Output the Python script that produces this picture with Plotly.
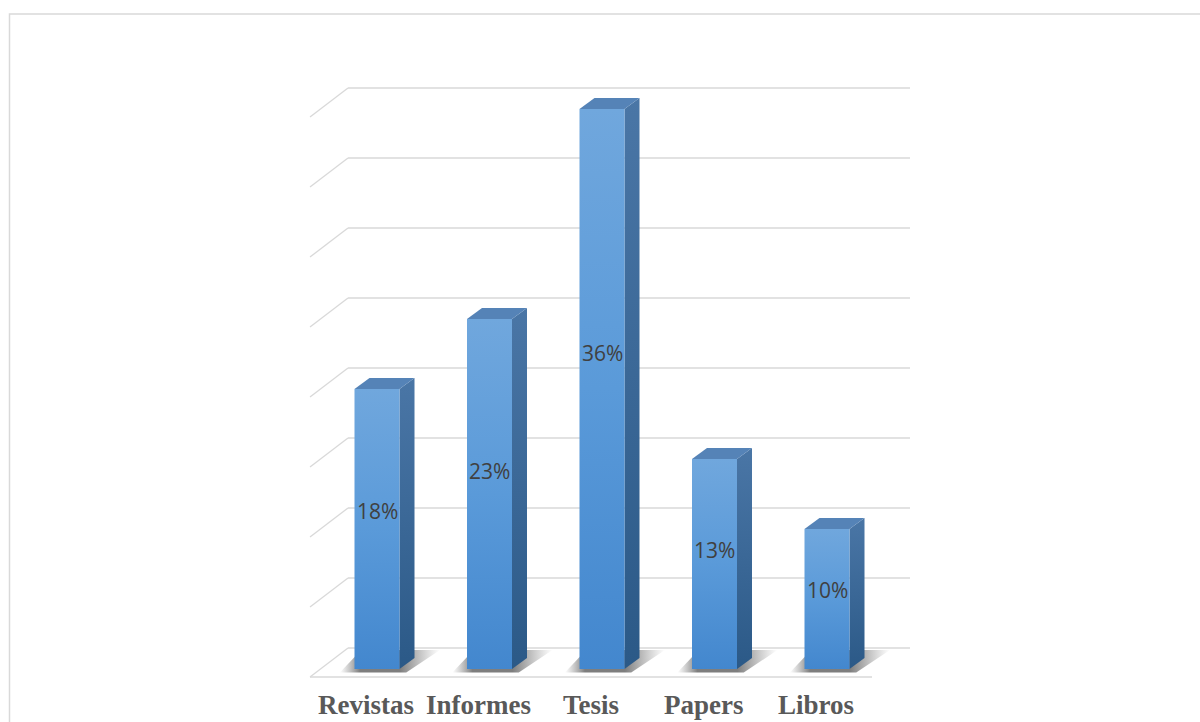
import plotly.graph_objects as go

# ---- data ----
categories = ["Revistas", "Informes", "Tesis", "Papers", "Libros"]
counts = [4, 5, 8, 3, 2]
pct_labels = ["18%", "23%", "36%", "13%", "10%"]
grid_levels = list(range(0, 9))

# ---- geometry (layout, in axis units) ----
W, H = 1200, 722
PX_X = 112.5          # pixels per category step
PX_Y = 70.0           # pixels per unit
X0_PX, Y0_PX = 377.0, 669.0
HALF = 0.2            # half bar width
BDX, BDY = 15 / PX_X, 11 / PX_Y       # bar depth offset
WDX, WDY = 38 / PX_X, 29 / PX_Y       # floor depth offset
BACK_OFF = 21 / PX_Y                  # back wall offset above bar base
XB_LEFT = (348 - X0_PX) / PX_X
XB_RIGHT = (910 - X0_PX) / PX_X
XF_LEFT = XB_LEFT - WDX
XF_RIGHT = XB_RIGHT - WDX

xr = [(0 - X0_PX) / PX_X, (W - X0_PX) / PX_X]
yr = [(Y0_PX - H) / PX_Y, Y0_PX / PX_Y]

fig = go.Figure()
shapes = []
GRID = "#d9d9d9"

# back wall grid + left diagonals
for k in grid_levels:
    yb = k + BACK_OFF
    shapes.append(dict(type="line", xref="x", yref="y", x0=XB_LEFT, y0=yb, x1=XB_RIGHT, y1=yb,
                       line=dict(color=GRID, width=1.3), layer="below"))
    shapes.append(dict(type="line", xref="x", yref="y", x0=XF_LEFT, y0=yb - WDY, x1=XB_LEFT, y1=yb,
                       line=dict(color=GRID, width=1.3), layer="below"))
# floor front edge
shapes.append(dict(type="line", xref="x", yref="y", x0=XF_LEFT, y0=BACK_OFF - WDY, x1=XF_RIGHT,
                   y1=BACK_OFF - WDY, line=dict(color=GRID, width=1.3), layer="below"))
# outer border
shapes.append(dict(type="rect", xref="paper", yref="paper", x0=9.5 / W, y0=-0.02, x1=1.02,
                   y1=1 - 14 / H, line=dict(color="#d9d9d9", width=1.5), layer="below"))


def poly(xs, ys, **kw):
    fig.add_trace(go.Scatter(x=xs + [xs[0]], y=ys + [ys[0]], mode="lines", fill="toself",
                             line=dict(width=0), hoverinfo="skip", showlegend=False, **kw))


for i, v in enumerate(counts):
    c = i
    l, r = c - HALF, c + HALF
    # shadow on floor
    poly([l - 0.13, r + 0.06, r + 0.36, l + 0.06], [-0.05, -0.05, 0.27, 0.27],
         fillgradient=dict(type="horizontal",
                           colorscale=[[0, "rgba(80,80,80,0)"], [0.2, "rgba(40,40,40,0.6)"],
                                       [0.6, "rgba(40,40,40,0.6)"], [1, "rgba(80,80,80,0)"]]))
    # side face
    poly([r, r + BDX, r + BDX, r], [0, BDY, v + BDY, v],
         fillgradient=dict(type="vertical", colorscale=[[0, "#2b5987"], [1, "#4a76a6"]]))
    # top face
    poly([l, r, r + BDX, l + BDX], [v, v, v + BDY, v + BDY], fillcolor="#5583b7")
    # front face
    poly([l, r, r, l], [0, 0, v, v],
         fillgradient=dict(type="vertical", colorscale=[[0, "#4387ce"], [0.5, "#5a9ad9"], [1, "#70a7dd"]]))

annotations = []
for i, (v, t) in enumerate(zip(counts, pct_labels)):
    annotations.append(dict(x=i, y=v * 0.565, text=t, showarrow=False, xref="x", yref="y",
                            font=dict(family="Open Sans, Liberation Sans", size=21, color="#404040")))
for i, name in enumerate(categories):
    annotations.append(dict(x=i - 0.1, y=(Y0_PX - 705) / PX_Y, text="<b>" + name + "</b>", showarrow=False,
                            xref="x", yref="y", borderpad=0,
                            font=dict(family="Liberation Serif", size=27, color="#595959")))

fig.update_layout(
    width=W, height=H, margin=dict(l=0, r=0, t=0, b=0),
    paper_bgcolor="white", plot_bgcolor="white",
    xaxis=dict(range=xr, visible=False, fixedrange=True),
    yaxis=dict(range=yr, visible=False, fixedrange=True),
    shapes=shapes, annotations=annotations, showlegend=False,
)
fig.write_html("out.html")
